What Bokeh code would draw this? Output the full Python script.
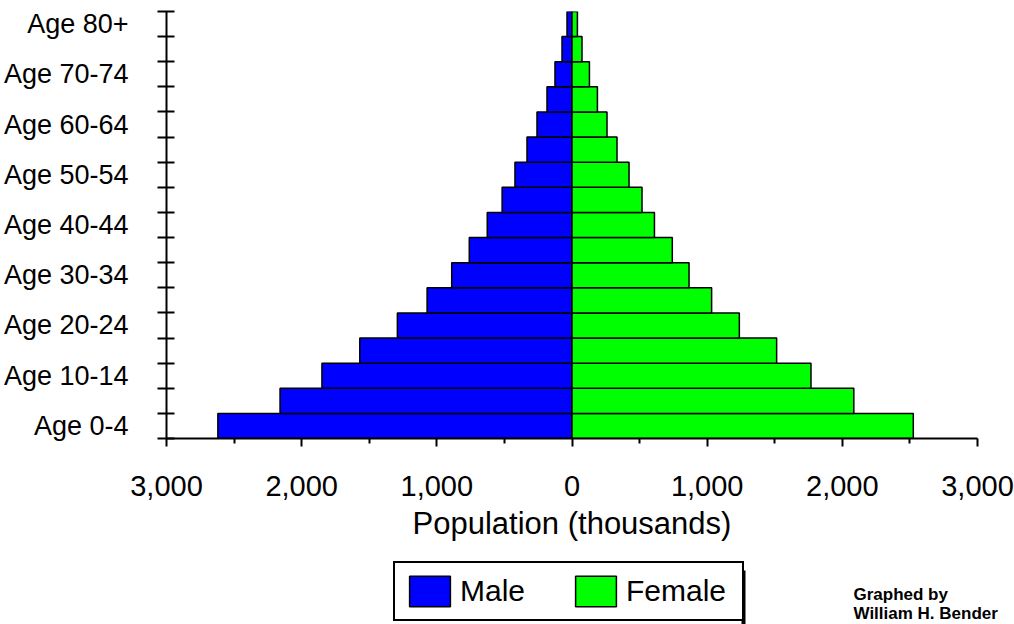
import numpy as np
from bokeh.plotting import figure
from bokeh.layouts import column
from bokeh.models import (Range1d, FixedTicker, Legend, LegendItem, Label,
                          ColumnDataSource)
from bokeh.embed import file_html
from bokeh.resources import INLINE

# ---- data ----
age_groups = ["Age 0-4", "Age 5-9", "Age 10-14", "Age 15-19", "Age 20-24",
              "Age 25-29", "Age 30-34", "Age 35-39", "Age 40-44", "Age 45-49",
              "Age 50-54", "Age 55-59", "Age 60-64", "Age 65-69", "Age 70-74",
              "Age 75-79", "Age 80+"]
male = [2620, 2160, 1850, 1570, 1292, 1072, 890, 760, 627, 517,
        422, 333, 259, 185, 126, 74, 37]
female = [2525, 2085, 1768, 1514, 1238, 1033, 866, 742, 610, 518,
          422, 333, 259, 188, 129, 74, 40]
x_ticks = [-3000, -2000, -1000, 0, 1000, 2000, 3000]
x_tick_labels = ["3,000", "2,000", "1,000", "0", "1,000", "2,000", "3,000"]
x_minor_ticks = [-2500, -1500, -500, 500, 1500, 2500]
x_title = "Population (thousands)"
series_names = ["Male", "Female"]
series_colors = ["#0000FF", "#00FF00"]
credit_lines = ["Graphed by", "William H. Bender"]

FONT = "Liberation Sans"

n = len(age_groups)
centers = [i + 0.5 for i in range(n)]
src = ColumnDataSource(dict(
    y=centers,
    male_left=[-m for m in male],
    zero=[0] * n,
    female=female,
    group=age_groups,
))

# ================= main chart =================
p = figure(width=1014, height=560, output_backend="svg", toolbar_location=None,
           x_range=Range1d(-3000, 3000), y_range=Range1d(0, n),
           min_border_left=166, min_border_right=37,
           min_border_top=11, min_border_bottom=122)
p.frame_align = False
p.outline_line_color = None
p.background_fill_color = "white"
p.border_fill_color = "white"
p.xgrid.visible = False
p.ygrid.visible = False

r_male = p.hbar(y="y", height=1, left="male_left", right="zero", source=src,
                fill_color=series_colors[0], line_color="black", line_width=1.5)
r_female = p.hbar(y="y", height=1, left="zero", right="female", source=src,
                  fill_color=series_colors[1], line_color="black", line_width=1.5)

# x axis
xa = p.xaxis[0]
xa.ticker = FixedTicker(ticks=x_ticks, minor_ticks=x_minor_ticks)
xa.major_label_overrides = {t: l for t, l in zip(x_ticks, x_tick_labels)}
xa.axis_line_width = 2
xa.axis_line_color = "black"
xa.major_tick_line_width = 2
xa.major_tick_line_color = "black"
xa.major_tick_in = 0
xa.major_tick_out = 8
xa.minor_tick_line_width = 2
xa.minor_tick_line_color = "black"
xa.minor_tick_in = 0
xa.minor_tick_out = 5
xa.major_label_standoff = 29
xa.major_label_text_font = FONT
xa.major_label_text_font_size = "29px"
xa.major_label_text_color = "black"
xa.axis_label = x_title
xa.axis_label_standoff = 7
xa.axis_label_text_font = FONT
xa.axis_label_text_font_size = "31px"
xa.axis_label_text_font_style = "normal"
xa.axis_label_text_color = "black"

# y axis
ya = p.yaxis[0]
label_ticks = [centers[i] for i in range(0, n, 2)]
ya.ticker = FixedTicker(ticks=label_ticks, minor_ticks=list(range(n + 1)))
ya.major_label_overrides = {centers[i]: age_groups[i] for i in range(0, n, 2)}
ya.axis_line_width = 2
ya.axis_line_color = "black"
ya.major_tick_line_color = None
ya.major_tick_in = 0
ya.major_tick_out = 0
ya.minor_tick_line_width = 2
ya.minor_tick_line_color = "black"
ya.minor_tick_in = 8
ya.minor_tick_out = 9
ya.major_label_standoff = 29
ya.major_label_text_font = FONT
ya.major_label_text_font_size = "27px"
ya.major_label_text_color = "black"

# ================= legend strip =================
W, H2, TOP = 1014, 64, 560
q = figure(width=W, height=H2, output_backend="svg", toolbar_location=None,
           x_range=Range1d(0, W), y_range=Range1d(TOP + H2, TOP),
           x_axis_type=None, y_axis_type=None,
           min_border=0, min_border_left=0, min_border_right=0,
           min_border_top=0, min_border_bottom=0)
q.frame_align = False
q.outline_line_color = None
q.background_fill_color = "white"
q.border_fill_color = "white"
q.xgrid.visible = False
q.ygrid.visible = False

# legend-key renderers (no visible marks: NaN geometry)
key_src = ColumnDataSource(dict(y=np.array([np.nan]), left=np.array([np.nan]),
                                right=np.array([np.nan])))
lr = []
for c in series_colors:
    lr.append(q.hbar(y="y", height=1, left="left", right="right", source=key_src,
                     fill_color=c, line_color="black", line_width=1.5))

# drop shadow of the legend box (right side)
q.quad(left=[741], right=[745], top=[570], bottom=[TOP + H2],
       fill_color="black", line_color=None)

legend = Legend(items=[LegendItem(label=nm, renderers=[r])
                       for nm, r in zip(series_names, lr)],
                orientation="horizontal", location=(393, 3),
                glyph_width=51, glyph_height=38, label_standoff=5,
                label_width=107, spacing=3, padding=9, margin=0,
                label_text_font=FONT, label_text_font_size="30px",
                label_text_color="black", label_text_baseline="middle",
                border_line_color="black", border_line_width=2,
                border_line_alpha=1.0,
                background_fill_color="white", background_fill_alpha=1.0)
q.add_layout(legend, "center")

for txt, yv in zip(credit_lines, [594, 613]):
    q.add_layout(Label(x=853, y=yv, text=txt, text_align="left",
                       text_baseline="alphabetic", text_font=FONT,
                       text_font_style="bold", text_font_size="17px",
                       text_color="black"))

layout = column(p, q, spacing=0)
open("out.html", "w").write(file_html(layout, INLINE))
